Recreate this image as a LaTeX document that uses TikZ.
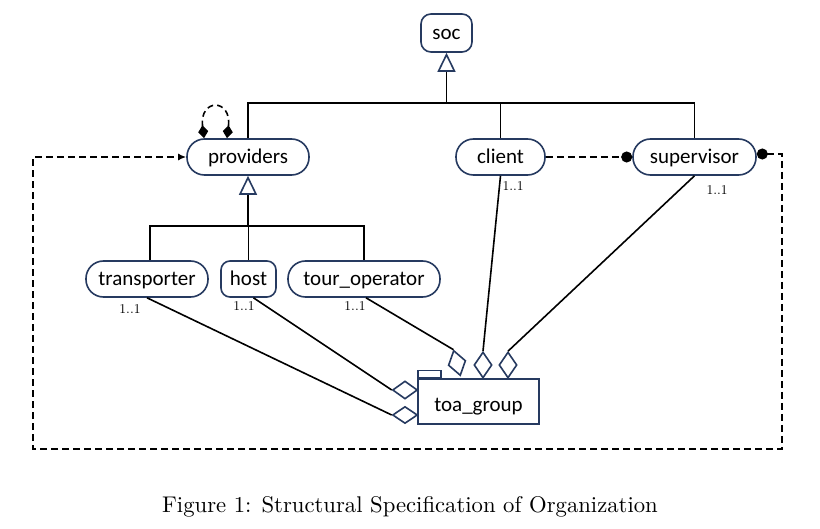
\documentclass[tikz,border=0pt]{standalone}
\usepackage{fontspec}
\newfontfamily\calfont{Carlito}
\newfontfamily\capfont{lmroman10-regular.otf}
\usetikzlibrary{arrows.meta,shapes.geometric,calc}
\definecolor{navy}{RGB}{38,58,96}
\begin{document}
\begin{tikzpicture}[x=1pt,y=-1pt,
  ent/.style={draw=navy, line width=1.6pt, fill=white, font=\calfont\fontsize{21}{24}\selectfont,
    text height=14pt, text depth=0pt, minimum height=36pt, inner sep=0pt, rounded corners=17.5pt},
  agg/.style={diamond, draw=navy, line width=1.6pt, fill=white, inner sep=0pt},
  conn/.style={line width=1.6pt, black},
  inh/.style={conn, -{Triangle[open, length=19pt, width=18pt, color=navy, line width=1.6pt]}},
  selfloop/.style={conn, dash pattern=on 6pt off 4pt, {Diamond[length=13pt,width=10pt]}-{Diamond[length=13pt,width=10pt]}},
  dashl/.style={conn, dash pattern=on 7pt off 4pt},
  lab/.style={font=\capfont\fontsize{13.5}{15}\selectfont, inner sep=0pt}
]
\useasboundingbox (0,0) rectangle (820,529);
\fill[white] (0,0) rectangle (820,529);

% entities
\node[ent, minimum width=51pt, minimum height=38pt, rounded corners=10pt] (soc) at (446.5,33) {soc};
\node[ent, minimum width=122pt] (providers) at (248,157) {providers};
\node[ent, minimum width=89pt] (client) at (500.5,157) {client};
\node[ent, minimum width=123pt] (supervisor) at (694.5,157) {supervisor};
\node[ent, minimum width=122pt] (transporter) at (147,279) {transporter};
\node[ent, minimum width=55pt, rounded corners=9pt] (host) at (248.5,279) {host};
\node[ent, minimum width=152pt] (tour) at (364,279) {tour\_operator};
\node[draw=navy, line width=1.6pt, fill=white, minimum width=121pt, minimum height=45pt, inner sep=0pt,
  font=\calfont\fontsize{21}{24}\selectfont, text height=20pt, text depth=0pt] (toa) at (478.5,401.5) {toa\_group};
\node[draw=navy, line width=1.4pt, minimum width=23pt, minimum height=7pt, inner sep=0pt, anchor=south west] (tab) at (toa.north west) {};

% inheritance trees
\coordinate (j1) at (446.5,103);
\draw[conn] (providers.north) |- (j1) -| (supervisor.north);
\draw[conn] (client.north) -- (client.north |- j1);
\draw[inh] (j1) -- (soc.south);

\coordinate (j2) at (248,226);
\draw[conn] ([xshift=3pt]transporter.north) |- (j2) -| (tour.north);
\draw[conn] (host.north) -- (host.north |- j2);
\draw[inh] (j2) -- (providers.south);

% self loop on providers
\draw[selfloop] ([xshift=-44pt]providers.north) .. controls (199,98) and (232,98) .. ([xshift=-21pt]providers.north);

% aggregation
\node[agg, minimum width=25pt, minimum height=17pt] (dT) at (405,415) {};
\node[agg, minimum width=25pt, minimum height=18pt] (dH) at (405,390) {};
\node[agg, minimum width=18pt, minimum height=26pt, rotate=15] (dO) at (457,363) {};
\node[agg, minimum width=18pt, minimum height=26pt] (dC) at (483,365) {};
\node[agg, minimum width=18pt, minimum height=26pt] (dS) at (508,365) {};
\draw[conn] (transporter.south) -- (dT.west);
\draw[conn] ([xshift=5pt]host.south) -- (dH.west);
\draw[conn] ([xshift=2pt]tour.south) -- (dO.north);
\draw[conn] (client.south) -- (dC.north);
\draw[conn] (supervisor.south) -- (dS.north);

% dashed relations
\draw[dashl, -{Circle[length=11pt]}] (client.east) -- (supervisor.west);
\coordinate (o1) at (782,154);
\coordinate (o2) at (782,449);
\coordinate (o3) at (33,449);
\coordinate (o4) at (33,157);
\draw[dashl, {Circle[length=11pt]}-{Latex[length=8pt,width=7pt]}] ([yshift=3pt]supervisor.east) -- (o1) -- (o2) -- (o3) -- (o4) -- (providers.west);

% multiplicities
\node[lab] (m1) at (130,309) {1..1};
\node[lab] (m2) at (244,306) {1..1};
\node[lab] (m3) at (355,306) {1..1};
\node[lab] (m4) at (513,186) {1..1};
\node[lab] (m5) at (717,190) {1..1};

% caption
\node[font=\capfont\fontsize{22.7}{26}\selectfont] (cap) at (410,507) {Figure 1: Structural Specification of Organization};
\end{tikzpicture}
\end{document}
